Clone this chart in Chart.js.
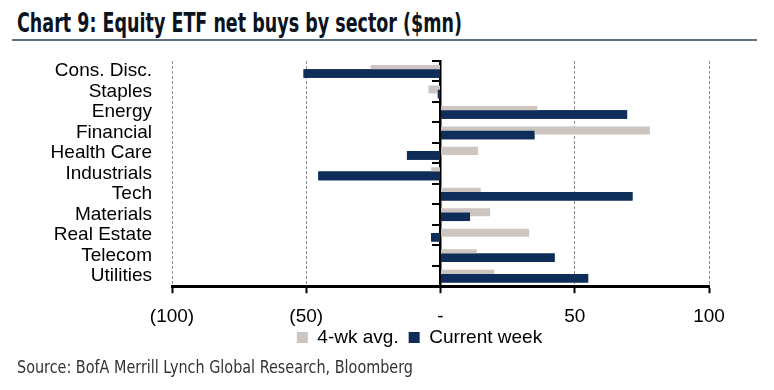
<!DOCTYPE html>
<html>
<head>
<meta charset="utf-8">
<script src="https://cdn.jsdelivr.net/npm/chart.js@4/dist/chart.umd.min.js"></script>
<style>
  html, body { margin: 0; padding: 0; width: 774px; height: 390px; overflow: hidden; background: #fff; }
  #title { position: absolute; left: 17px; top: 7px; font: bold 27px "Liberation Sans Narrow", "DejaVu Sans Condensed", sans-serif; color: #0c1320; white-space: nowrap; transform-origin: 0 0; }
  #rule { position: absolute; left: 12px; top: 39px; width: 745px; height: 2px; background: #5f7283; }
  #source { position: absolute; left: 17px; top: 356px; font: 18px "Liberation Sans Narrow", "DejaVu Sans Condensed", sans-serif; color: #333; white-space: nowrap; transform-origin: 0 0; }
  #wrap { position: absolute; left: 0; top: 45px; width: 774px; height: 345px; }
</style>
</head>
<body>
<div id="title">Chart 9: Equity ETF net buys by sector ($mn)</div>
<div id="rule"></div>
<div id="wrap"><canvas id="chart" width="774" height="345"></canvas></div>
<div id="source">Source: BofA Merrill Lynch Global Research, Bloomberg</div>
<script>
// values, $mn
const sectors = ['Cons. Disc.', 'Staples', 'Energy', 'Financial', 'Health Care', 'Industrials', 'Tech', 'Materials', 'Real Estate', 'Telecom', 'Utilities'];
const avg4wk = [-26, -4.5, 36, 78, 14, -3.5, 15, 18.5, 33, 13.5, 20];
const currentWeek = [-51, -1, 69.5, 35, -12.5, -45.5, 71.5, 11, -3.5, 42.5, 55];
const tickValues = [-100, -50, 0, 50, 100];
const tickLabels = ['(100)', '(50)', '-', '50', '100'];

const FONT = 'Liberation Sans, Arial, sans-serif';

function fitWidth(id, w) {
    const el = document.getElementById(id);
    el.style.transform = 'scaleX(' + (w / el.getBoundingClientRect().width) + ')';
}
fitWidth('title', 445);
fitWidth('source', 396);

// excel draws the current week bar over the 4-wk bar
const navyOnTop = {
    id: 'navyOnTop',
    afterDatasetsDraw(chart) {
        chart.getDatasetMeta(1).data.forEach(bar => bar.draw(chart.ctx));
    }
};

// legend sits tucked under the axis labels, a bit right of centre
const legendNudge = {
    id: 'legendNudge',
    afterLayout(chart) {
        const lg = chart.legend;
        lg.left += 65; lg.right += 65;
        lg.top -= 22; lg.bottom -= 22;
    }
};

const chart = new Chart(document.getElementById('chart'), {
    type: 'bar',
    data: {
        labels: sectors,
        datasets: [{
            label: '4-wk avg.',
            data: avg4wk,
            backgroundColor: '#cdc6c0',
            categoryPercentage: 0.44,
            barPercentage: 1.78
        }, {
            label: 'Current week',
            data: currentWeek,
            backgroundColor: '#0f2d59',
            categoryPercentage: 0.44,
            barPercentage: 1.9
        }]
    },
    options: {
        indexAxis: 'y',
        responsive: false,
        animation: false,
        devicePixelRatio: 1,
        layout: { padding: { left: 0, right: 65, top: 16, bottom: 11 } },
        scales: {
            x: {
                type: 'linear',
                min: -100,
                max: 100,
                afterBuildTicks: s => { s.ticks = tickValues.map(v => ({ value: v })); },
                ticks: {
                    callback: v => tickLabels[tickValues.indexOf(v)],
                    font: { family: FONT, size: 19 },
                    color: '#000',
                    padding: 12,
                    maxRotation: 0
                },
                grid: {
                    color: c => (c.tick && c.tick.value === 0) ? 'rgba(0,0,0,0)' : '#8c8c8c',
                    lineWidth: 1,
                    tickColor: '#000',
                    tickWidth: 2,
                    tickLength: 7
                },
                border: { color: '#000', width: 3, dash: [3, 2] }
            },
            y: {
                type: 'category',
                grid: { display: false, drawTicks: false },
                border: { display: false },
                ticks: { autoSkip: false, font: { family: FONT, size: 19 }, color: '#000', padding: 20 },
                afterFit: s => { s.width = 172; s.paddingTop = 0; s.paddingBottom = 0; }
            },
            y2: {
                type: 'category',
                axis: 'y',
                position: { x: 0 },
                offset: true,
                grid: { offset: true, drawOnChartArea: false, tickLength: 7, color: '#000', lineWidth: 2 },
                ticks: { display: false },
                border: { color: '#000', width: 2.5 }
            }
        },
        plugins: {
            legend: {
                position: 'bottom',
                labels: {
                    boxWidth: 11,
                    boxHeight: 11,
                    padding: 10,
                    color: '#000',
                    font: { family: FONT, size: 19 }
                }
            },
            tooltip: { enabled: false }
        }
    },
    plugins: [navyOnTop, legendNudge]
});
</script>
</body>
</html>
